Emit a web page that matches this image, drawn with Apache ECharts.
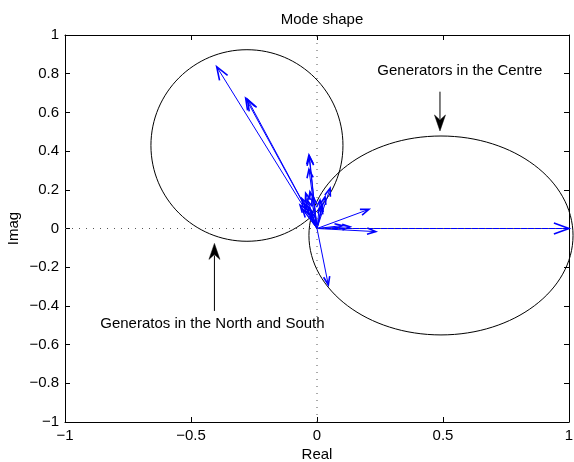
<!DOCTYPE html>
<html>
<head>
<meta charset="utf-8">
<script src="https://cdn.jsdelivr.net/npm/echarts@6/dist/echarts.min.js"></script>
<style>html,body{margin:0;padding:0;background:#fff}#c{width:574px;height:462px}</style>
</head>
<body>
<div id="c"></div>
<script>
// ---- data ----
var xTicks = [-1, -0.5, 0, 0.5, 1];
var yTicks = [-1, -0.8, -0.6, -0.4, -0.2, 0, 0.2, 0.4, 0.6, 0.8, 1];
// mode shape vectors (real, imag)
var modeReal = [-0.398, -0.283, -0.276, -0.032, -0.030, -0.032, 0.052, 0.206, 0.233, 0.131, 0.100, 1.000, 0.045,
                -0.045, -0.028, -0.015, 0.012, 0.032, 0.019, -0.067, -0.056, -0.040, -0.024, 0.020, -0.050,
                -0.060, -0.035];
var modeImag = [0.836, 0.673, 0.668, 0.380, 0.372, 0.306, 0.208, 0.099, -0.016, 0.009, 0.015, 0.000, -0.292,
                0.182, 0.190, 0.164, 0.147, 0.164, 0.113, 0.121, 0.096, 0.147, 0.085, 0.125, 0.130,
                0.155, 0.110];
// group circles: centre real, centre imag, radius real, radius imag
var circleCx = [-0.278, 0.492];
var circleCy = [0.429, -0.036];
var circleRx = [0.381, 0.524];
var circleRy = [0.495, 0.514];
// annotation texts and arrows
var noteText = ['Generators in the Centre', 'Generatos in the North and South'];
var noteX = [0.567, -0.415];
var noteY = [0.816, -0.495];
var noteArrowX = [0.488, -0.407];
var noteArrowFromY = [0.707, -0.426];
var noteArrowToY = [0.504, -0.077];
// zero reference lines
var zeroH = [[-1, 0], [1, 0]];
var zeroV = [[0, -1], [0, 1]];

var FONT = '"Liberation Sans", Arial, Helvetica, sans-serif';
function fmt(v) { return v < 0 ? '\u2212' + String(-v) : String(v); }

var vecData = modeReal.map(function (r, i) { return [r, modeImag[i]]; });
var circData = circleCx.map(function (c, i) { return [c, circleCy[i], circleRx[i], circleRy[i]]; });
var noteData = noteText.map(function (t, i) { return [noteX[i], noteY[i]]; });
var noteArrowData = noteArrowX.map(function (x, i) { return [x, noteArrowFromY[i], noteArrowToY[i]]; });

var chart = echarts.init(document.getElementById('c'), null, {renderer: 'canvas'});

function axisCommon(extra) {
  var a = {
    type: 'value', min: -1, max: 1,
    axisLine: {show: true, onZero: false, lineStyle: {color: '#000', width: 1}},
    axisTick: {show: true, inside: true, length: 5, lineStyle: {color: '#000'}},
    splitLine: {show: false},
    axisLabel: {color: '#000', fontFamily: FONT, fontSize: 15, formatter: fmt}
  };
  for (var k in extra) a[k] = extra[k];
  return a;
}

chart.setOption({
  animation: false,
  backgroundColor: '#fff',
  title: {
    text: 'Mode shape', left: 317, top: 7, textAlign: 'center',
    textStyle: {fontFamily: FONT, fontSize: 15, fontWeight: 'normal', color: '#000'}
  },
  grid: {left: 65, right: 5, top: 35, bottom: 40, containLabel: false, outerBoundsMode: 'none'},
  xAxis: [
    axisCommon({position: 'bottom', interval: 0.5, name: 'Real', nameLocation: 'middle', nameGap: 25,
      nameMoveOverlap: false,
      nameTextStyle: {fontFamily: FONT, fontSize: 15, color: '#000'},
      axisLabel: {color: '#000', fontFamily: FONT, fontSize: 15, formatter: fmt, margin: 6}}),
    axisCommon({position: 'top', interval: 0.5, axisLabel: {show: false}})
  ],
  yAxis: [
    axisCommon({position: 'left', interval: 0.2, name: 'Imag', nameLocation: 'middle', nameGap: 44,
      nameMoveOverlap: false,
      nameTextStyle: {fontFamily: FONT, fontSize: 15, color: '#000'},
      axisLabel: {color: '#000', fontFamily: FONT, fontSize: 15, formatter: function (v) { return fmt(Math.round(v * 10) / 10); }, margin: 6}}),
    axisCommon({position: 'right', interval: 0.2, axisLabel: {show: false}})
  ],
  series: [
    {type: 'line', data: zeroH, symbol: 'none', silent: true,
     lineStyle: {color: '#555', width: 1, type: [1, 6]}},
    {type: 'line', data: zeroV, symbol: 'none', silent: true,
     lineStyle: {color: '#555', width: 1, type: [1, 6]}},
    {
      type: 'custom', data: circData, clip: false, silent: true,
      renderItem: function (params, api) {
        var c = api.coord([api.value(0), api.value(1)]);
        var s = api.size([api.value(2), api.value(3)]);
        return {type: 'ellipse', shape: {cx: c[0], cy: c[1], rx: s[0], ry: s[1]},
                style: {fill: null, stroke: '#000', lineWidth: 1}};
      }
    },
    {
      type: 'custom', data: vecData, clip: false, silent: true,
      renderItem: function (params, api) {
        var o = api.coord([0, 0]);
        var t = api.coord([api.value(0), api.value(1)]);
        var dx = o[0] - t[0], dy = o[1] - t[1];
        var len = Math.sqrt(dx * dx + dy * dy) || 1;
        var ux = dx / len, uy = dy / len;
        var hl = 7 + 0.036 * len;
        var a = 20 * Math.PI / 180;
        var ca = Math.cos(a), sa = Math.sin(a);
        var b1 = [t[0] + hl * (ux * ca - uy * sa), t[1] + hl * (ux * sa + uy * ca)];
        var b2 = [t[0] + hl * (ux * ca + uy * sa), t[1] + hl * (-ux * sa + uy * ca)];
        return {type: 'group', children: [
          {type: 'line', shape: {x1: o[0], y1: o[1], x2: t[0], y2: t[1]}, style: {stroke: '#0000ff', lineWidth: 1}},
          {type: 'polyline', shape: {points: [b1, t, b2]}, style: {stroke: '#0000ff', lineWidth: 1.6, fill: null}}
        ]};
      }
    },
    {
      type: 'custom', data: noteArrowData, clip: false, silent: true,
      renderItem: function (params, api) {
        var f = api.coord([api.value(0), api.value(1)]);
        var t = api.coord([api.value(0), api.value(2)]);
        var dir = t[1] > f[1] ? 1 : -1;
        var hl = 16, hw = 5.5;
        var base = t[1] - dir * hl;
        return {type: 'group', children: [
          {type: 'line', shape: {x1: f[0], y1: f[1], x2: t[0], y2: base + dir * 4}, style: {stroke: '#000', lineWidth: 1}},
          {type: 'polygon', shape: {points: [[t[0], t[1]], [t[0] - hw, base], [t[0], base + dir * 5], [t[0] + hw, base]]},
           style: {fill: '#000', stroke: '#000', lineWidth: 0.5}}
        ]};
      }
    },
    {
      type: 'custom', data: noteData, clip: false, silent: true,
      renderItem: function (params, api) {
        var p = api.coord([api.value(0), api.value(1)]);
        return {type: 'text', x: p[0], y: p[1],
          style: {text: noteText[params.dataIndex], fill: '#000', font: '15px ' + FONT,
                  align: 'center', verticalAlign: 'middle'}};
      }
    }
  ]
});
</script>
</body>
</html>
